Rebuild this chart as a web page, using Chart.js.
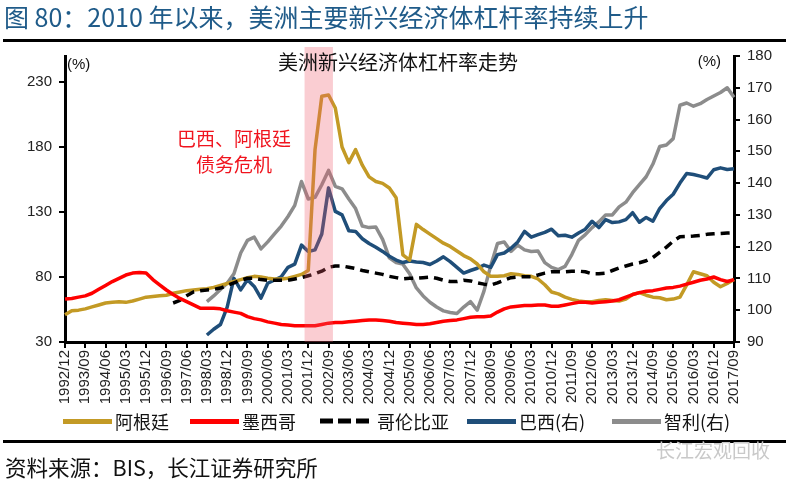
<!DOCTYPE html>
<html><head><meta charset="utf-8">
<script src="https://cdn.jsdelivr.net/npm/chart.js@4.4.0/dist/chart.umd.min.js"></script>
<style>
html,body{margin:0;padding:0;background:#fff;}
#wrap{position:relative;width:796px;height:484px;overflow:hidden;font-family:"Noto Sans CJK SC","Noto Sans",sans-serif;}
#c{position:absolute;left:0;top:0;}
.abs{position:absolute;white-space:nowrap;}
#title{left:4px;top:0;font-size:25px;line-height:32px;color:#1f5b89;}
.rule{position:absolute;left:3px;width:783px;height:3px;background:#000;}
.leg{position:absolute;top:408px;height:26px;display:flex;align-items:center;font-size:18px;color:#111;}
.leg .ln{width:49px;height:5px;margin-right:3px;}
#src{left:5px;top:453px;font-size:21.5px;line-height:28px;color:#111;}
#wm{left:656px;top:436px;font-size:19px;line-height:28px;color:#c9c9c9;}
</style></head>
<body>
<div id="wrap">
<canvas id="c" width="796" height="484"></canvas>
<div id="title" class="abs">图 80：2010 年以来，美洲主要新兴经济体杠杆率持续上升</div>
<div class="rule" style="top:39px"></div>
<div class="leg" style="left:63px"><div class="ln" style="background:#c39a25"></div>阿根廷</div>
<div class="leg" style="left:190px"><div class="ln" style="background:#ff0000"></div>墨西哥</div>
<div class="leg" style="left:320px"><svg width="49" height="6" style="margin-right:8px"><line x1="0" y1="3" x2="49" y2="3" stroke="#000" stroke-width="5" stroke-dasharray="13 5"/></svg>哥伦比亚</div>
<div class="leg" style="left:467px"><div class="ln" style="background:#1f4e79"></div>巴西(右)</div>
<div class="leg" style="left:612px"><div class="ln" style="background:#8c8c8c"></div>智利(右)</div>
<div class="rule" style="top:440px"></div>
<div id="wm" class="abs">长江宏观回收</div>
<div id="src" class="abs">资料来源：BIS，长江证券研究所</div>
</div>
<script>
const categories = [
'1992/12',
'1993/03','1993/06','1993/09','1993/12','1994/03','1994/06','1994/09','1994/12',
'1995/03','1995/06','1995/09','1995/12','1996/03','1996/06','1996/09','1996/12',
'1997/03','1997/06','1997/09','1997/12','1998/03','1998/06','1998/09','1998/12',
'1999/03','1999/06','1999/09','1999/12','2000/03','2000/06','2000/09','2000/12',
'2001/03','2001/06','2001/09','2001/12','2002/03','2002/06','2002/09','2002/12',
'2003/03','2003/06','2003/09','2003/12','2004/03','2004/06','2004/09','2004/12',
'2005/03','2005/06','2005/09','2005/12','2006/03','2006/06','2006/09','2006/12',
'2007/03','2007/06','2007/09','2007/12','2008/03','2008/06','2008/09','2008/12',
'2009/03','2009/06','2009/09','2009/12','2010/03','2010/06','2010/09','2010/12',
'2011/03','2011/06','2011/09','2011/12','2012/03','2012/06','2012/09','2012/12',
'2013/03','2013/06','2013/09','2013/12','2014/03','2014/06','2014/09','2014/12',
'2015/03','2015/06','2015/09','2015/12','2016/03','2016/06','2016/09','2016/12',
'2017/03','2017/06','2017/09'];

// left axis (%)
const argentina = [
51,54,54.5,55.5,57,58.5,60,60.5,61,60.5,
61.5,63,64.5,65,65.5,66,67.5,68.5,69.5,70,
70.5,71,72,73.5,75,76.5,78,79.5,80.5,80,
79,78.5,78.5,79,80.5,82,85,178,219,220,
210,180,168,178,166,157,153.5,152,148.5,141,
97,93,120.5,116.5,113,109.5,106,103.5,100,96.5,
94,90,84,80.5,80.5,81,82.5,82,81,80.5,
78.5,74,68.5,67,64.5,62.8,61.5,61,61,62,
62.5,62,61.5,63,66.5,68,66,64.5,64,62.5,
63,64.5,74,84,82.5,81,76,72.5,75,78];

const mexico = [
63,63.5,64.5,65.5,67.5,70.5,73.5,76.5,79,81.5,
83,83.5,83,78,74,70,66.5,63.5,61,58.5,
56,56,56,55.5,54,53,52,49.5,48,47,
45.5,44.5,43.5,43,42.5,42.5,42.5,42.5,43.5,44.5,
45,45,45.5,46,46.5,47,47,46.5,46,45,
44.5,44,43.5,43.5,44,45,46,46.5,47,48,
49,49.5,49.5,50,53,55.5,57,57.5,58,58,
58.5,58.5,57.5,57.5,58.5,59.5,60.5,60.5,60,60.5,
61,61.5,62.5,64.5,66.5,68,69,69.5,70.5,71.5,
72,73,74.5,76,77.5,78.5,80,78,76.5,78];

const colombia = [
null,null,null,null,null,null,null,null,null,null,
null,null,null,null,null,null,60,62,65.5,68.5,
69.5,70,70.5,71.5,73.5,75.5,77.5,79,79,78,
77.5,77.5,77.5,77.5,78.5,79.5,81,82.5,84.5,87.5,
88.5,88.5,87.5,86.5,85,84,83,82,80.5,79.5,
78.5,79,79,79.5,80,79,77.5,76.5,76.5,77.5,
77,75.5,74.5,73.8,75.5,77.5,79.5,80,80.2,80.2,
81.5,83,84,84,84,84.5,84.5,84,82.5,82.5,
83,85,87,88.5,90,91,92.5,95,99,103,
107.5,111,111.2,111.5,112,112.8,113.2,113.5,113.8,114];

// right axis (%)
const brazil = [
null,null,null,null,null,null,null,null,null,null,
null,null,null,null,null,null,null,null,null,null,
null,92.2,94,95.5,101,110,106.4,109.6,107.5,103.8,
108.5,109.5,110.5,113.5,114.5,120.5,118.5,119,124,138.5,
131.1,130,125,124.8,122.5,121,119.8,118.5,117,115.8,
115,115.5,115.2,115,114.4,115.5,116.8,115.3,113.5,111.7,
112.5,113.2,114.2,113.5,117.5,118,119.5,121.5,124.8,123,
123.8,124.5,125.5,123.4,123.6,123,124.3,125.5,128,126,
128.5,127.6,127.8,128.5,130.7,127.7,129.2,128,132,134.5,
136.5,140,143,142.7,142.2,141.6,144.2,144.8,144.3,144.5];

const chile = [
null,null,null,null,null,null,null,null,null,null,
null,null,null,null,null,null,null,null,null,null,
null,102.7,104.5,106.5,108.5,111.5,118,122,123,119.3,
121.5,124,126.5,129.5,133,140.5,135,135.5,139.5,144,
139,138.2,135,132,126.5,126,126.2,122.3,116.5,115,
114.5,111.5,107,104.5,102.5,101,99.8,99.3,99,101,
102.7,100,106,114,121,121.5,118.5,120.5,119,118.5,
118.6,115,113.5,112.8,113.8,117.5,122,123.8,126,127.8,
130,130,132.5,134,137,139.5,142,146,151.5,152,
154,164.5,165.2,164.2,165,166.3,167.4,168.5,170,167];

const leftTicks = [30, 80, 130, 180, 230];
const rightTicks = [90, 100, 110, 120, 130, 140, 150, 160, 170, 180];
const crisisFrom = '2001/12';
const crisisTo = '2002/09';

const LAT = "'Liberation Sans', Arial, sans-serif";
const CJK = "'Noto Sans CJK SC', sans-serif";

const overlay = {
  id: 'overlay',
  afterDatasetsDraw(chart) {
    const {ctx, chartArea, scales} = chart;
    const a = scales.x.getPixelForValue(categories.indexOf(crisisFrom) - 0.55);
    const b = scales.x.getPixelForValue(categories.indexOf(crisisTo) + 0.65);
    ctx.save();
    ctx.fillStyle = 'rgba(238,88,105,0.30)';
    ctx.fillRect(a, chartArea.top - 9, b - a, chartArea.bottom - chartArea.top + 9);
    ctx.restore();
  },
  afterDraw(chart) {
    const {ctx, chartArea} = chart;
    ctx.save();
    ctx.textBaseline = 'middle';
    ctx.fillStyle = '#111';
    ctx.font = '20px ' + CJK;
    ctx.textAlign = 'center';
    ctx.fillText('美洲新兴经济体杠杆率走势', 398, chartArea.top + 6);
    ctx.font = '15px ' + LAT;
    ctx.textAlign = 'left';
    ctx.fillText('(%)', chartArea.left + 2, chartArea.top + 9);
    ctx.textAlign = 'right';
    ctx.fillText('(%)', chartArea.right - 13, chartArea.top + 6);
    ctx.fillStyle = '#f0141e';
    ctx.font = '19px ' + CJK;
    ctx.textAlign = 'center';
    ctx.fillText('巴西、阿根廷', 234, 139);
    ctx.fillText('债务危机', 234, 165);
    ctx.restore();
  }
};

function ds(label, data, color, axis, order, dash) {
  return { label, data, borderColor: color, backgroundColor: color, borderWidth: 3.5,
    pointRadius: 0, pointHoverRadius: 0, tension: 0, yAxisID: axis, order,
    borderDash: dash || [], spanGaps: false, borderJoinStyle: 'round' };
}

new Chart(document.getElementById('c'), {
  type: 'line',
  data: {
    labels: categories,
    datasets: [
      ds('阿根廷', argentina, '#c39a25', 'y', 2),
      ds('墨西哥', mexico, '#ff0000', 'y', 0),
      ds('哥伦比亚', colombia, '#000000', 'y', 1, [9, 6]),
      ds('巴西(右)', brazil, '#1f4e79', 'y1', 3),
      ds('智利(右)', chile, '#8c8c8c', 'y1', 4)
    ]
  },
  options: {
    responsive: false,
    animation: false,
    devicePixelRatio: 1,
    layout: { padding: { top: 56, left: 0, right: 0, bottom: 0 } },
    plugins: { legend: { display: false }, title: { display: false }, tooltip: { enabled: false } },
    scales: {
      x: {
        type: 'category', offset: false,
        grid: { drawOnChartArea: false, drawTicks: true, tickLength: 6, lineWidth: 2,
          color: (c) => (c.index % 3 === 0 ? '#000' : 'rgba(0,0,0,0)') },
        border: { display: true, color: '#000', width: 3 },
        ticks: { autoSkip: false, maxRotation: 90, minRotation: 90, padding: 2, color: '#222',
          font: { size: 15, family: LAT },
          callback: function (v, i) { return i % 3 === 0 ? this.getLabelForValue(v) : ''; } },
        afterFit: (s) => { s.height = 142; }
      },
      y: {
        type: 'linear', position: 'left', min: 30, max: 250,
        afterBuildTicks: (s) => { s.ticks = leftTicks.map(v => ({ value: v })); },
        grid: { drawOnChartArea: false, tickLength: 6, lineWidth: 2, color: '#000' },
        border: { display: true, color: '#000', width: 3 },
        ticks: { padding: 7, color: '#222', font: { size: 15, family: LAT } },
        afterFit: (s) => { s.width = 65; }
      },
      y1: {
        type: 'linear', position: 'right', min: 90, max: 180,
        afterBuildTicks: (s) => { s.ticks = rightTicks.map(v => ({ value: v })); },
        grid: { drawOnChartArea: false, tickLength: 6, lineWidth: 2, color: '#000' },
        border: { display: true, color: '#000', width: 3 },
        ticks: { padding: 7, color: '#222', font: { size: 15, family: LAT } },
        afterFit: (s) => { s.width = 62; }
      }
    }
  },
  plugins: [overlay]
});
</script>
</body></html>
